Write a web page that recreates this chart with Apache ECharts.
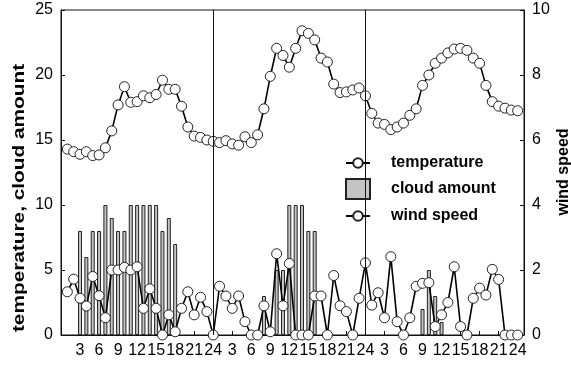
<!DOCTYPE html>
<html>
<head>
<meta charset="utf-8">
<script src="https://cdn.jsdelivr.net/npm/echarts@6/dist/echarts.min.js"></script>
<style>
  html, body { margin: 0; padding: 0; background: #ffffff; }
  #chart { width: 571px; height: 366px; }
</style>
</head>
<body>
<div id="chart"></div>
<script>
// Three days of hourly observations (hour 1 .. 72)
const hoursPerDay = 24;
const labelStep = 3;

const temperature = [
  14.3, 14.1, 13.9, 14.1, 13.8, 13.85, 14.4, 15.7, 17.7, 19.1, 17.9, 17.95,
  18.4, 18.25, 18.5, 19.6, 18.9, 18.9, 17.6, 16.0, 15.3, 15.2, 15.0, 14.9,
  14.8, 14.95, 14.7, 14.6, 15.25, 14.8, 15.4, 17.4, 19.9, 22.05, 21.5, 20.6,
  22.05, 23.4, 23.2, 22.7, 21.3, 21.0, 19.3, 18.65, 18.7, 18.85, 19.0, 18.4,
  17.05, 16.3, 16.2, 15.8, 16.0, 16.3, 16.9, 17.4, 19.2, 20.0, 20.9, 21.3,
  21.7, 22.0, 22.05, 21.9, 21.3, 20.9, 19.2, 17.95, 17.6, 17.45, 17.3, 17.25
];

const cloudAmount = [
  0, 0, 8, 6, 8, 8, 10, 9, 8, 8, 10, 10,
  10, 10, 10, 8, 9, 7, 0, 0, 0, 0, 0, 0,
  0, 0, 0, 0, 0, 0, 0, 3, 0, 5, 5, 10,
  10, 10, 8, 8, 0, 0, 0, 0, 0, 0, 0, 0,
  0, 0, 0, 0, 0, 0, 0, 0, 2, 5, 3, 1,
  0, 0, 0, 0, 0, 0, 0, 0, 0, 0, 0, 0
];

const windSpeed = [
  1.33, 1.72, 1.13, 0.89, 1.8, 1.21, 0.53, 2.0, 2.0, 2.08, 2.0, 2.1,
  0.82, 1.42, 0.82, 0, 0.62, 0.1, 0.82, 1.33, 0.62, 1.16, 0.72, 0,
  1.5, 1.2, 0.82, 1.2, 0.41, 0, 0, 0.9, 0.1, 2.5, 0.9, 2.2,
  0, 0, 0, 1.2, 1.2, 0, 1.83, 0.9, 0.72, 0, 1.13, 2.22,
  0.92, 1.3, 0.53, 2.41, 0.41, 0, 0.53, 1.5, 1.59, 1.61, 0.26, 0.62,
  1.0, 2.1, 0.26, 0, 1.13, 1.44, 1.23, 2.02, 1.71, 0, 0, 0
];

const leftTitle = 'temperature, cloud amount';
const rightTitle = 'wind speed';

const dayBoundaries = [hoursPerDay, hoursPerDay * 2];

const FONT = '"Liberation Sans", Arial, sans-serif';
const INK = '#111';

const withHour = arr => arr.map((v, i) => [i + 1, v]);

const lineStyleCommon = {
  type: 'line',
  symbol: 'circle',
  symbolSize: 10,
  lineStyle: { color: '#000', width: 1.6 },
  itemStyle: { color: '#fff', borderColor: '#222', borderWidth: 1 },
  z: 3
};

const legendText = { color: '#000', fontSize: 16, fontWeight: 'bold', fontFamily: FONT, padding: [0, 0, 0, 16] };

const chart = echarts.init(document.getElementById('chart'), null, { renderer: 'canvas' });

chart.setOption({
  animation: false,
  backgroundColor: '#fff',
  grid: {
    left: 61, right: 47, top: 10, bottom: 31,
    containLabel: false, outerBoundsMode: 'none',
    show: true, borderColor: INK, borderWidth: 1
  },
  legend: [
    { data: ['temperature'], left: 340, top: 150, orient: 'vertical', itemWidth: 24, itemHeight: 12, textStyle: legendText, selectedMode: false },
    { data: [{ name: 'cloud amount', icon: 'rect' }], left: 340, top: 173, orient: 'vertical', itemWidth: 24, itemHeight: 20, textStyle: legendText, selectedMode: false },
    { data: ['wind speed'], left: 340, top: 203, orient: 'vertical', itemWidth: 24, itemHeight: 12, textStyle: legendText, selectedMode: false }
  ],
  // Axis titles, both reading bottom to top; the left one is stretched along its length
  graphic: [
    {
      type: 'text',
      x: 20,
      y: 198,
      rotation: Math.PI / 2,
      scaleX: 1.3,
      style: { text: leftTitle, font: 'bold 16px ' + FONT, fill: '#000', align: 'center', verticalAlign: 'middle' }
    },
    {
      type: 'text',
      x: 564,
      y: 172,
      rotation: Math.PI / 2,
      style: { text: rightTitle, font: 'bold 16px ' + FONT, fill: '#000', align: 'center', verticalAlign: 'middle' }
    }
  ],
  xAxis: {
    type: 'value',
    min: 0,
    max: 73,
    interval: labelStep,
    axisLine: { show: true, lineStyle: { color: INK, width: 1 } },
    axisTick: { show: true, inside: true, length: 4, lineStyle: { color: INK } },
    splitLine: { show: false },
    axisLabel: {
      color: '#000', fontSize: 16, fontFamily: FONT, margin: 8,
      formatter: v => (v <= 0 || v % labelStep !== 0) ? '' : String(v % hoursPerDay === 0 ? hoursPerDay : v % hoursPerDay)
    }
  },
  yAxis: [
    {
      type: 'value', min: 0, max: 25, interval: 5, position: 'left',
      axisLine: { show: true, lineStyle: { color: INK } },
      axisTick: { show: true, inside: true, length: 4, lineStyle: { color: INK } },
      splitLine: { show: false },
      axisLabel: { color: '#000', fontSize: 16, fontFamily: FONT, margin: 8 }
    },
    {
      type: 'value', min: 0, max: 10, interval: 2, position: 'right',
      axisLine: { show: true, lineStyle: { color: INK } },
      axisTick: { show: true, inside: true, length: 4, lineStyle: { color: INK } },
      splitLine: { show: false },
      axisLabel: { color: '#000', fontSize: 16, fontFamily: FONT, margin: 8 }
    }
  ],
  series: [
    {
      name: 'cloud amount',
      type: 'bar',
      yAxisIndex: 0,
      barWidth: 4,
      data: withHour(cloudAmount).filter(d => d[1] > 0),
      itemStyle: { color: '#c4c4c4', borderColor: '#222', borderWidth: 1 },
      z: 1,
      markLine: {
        silent: true,
        symbol: ['none', 'none'],
        label: { show: false },
        lineStyle: { color: INK, width: 1, type: 'solid' },
        data: dayBoundaries.map(h => ({ xAxis: h }))
      }
    },
    Object.assign({ name: 'temperature', yAxisIndex: 0, data: withHour(temperature) }, lineStyleCommon),
    Object.assign({ name: 'wind speed', yAxisIndex: 1, data: withHour(windSpeed) }, lineStyleCommon)
  ]
});
</script>
</body>
</html>
